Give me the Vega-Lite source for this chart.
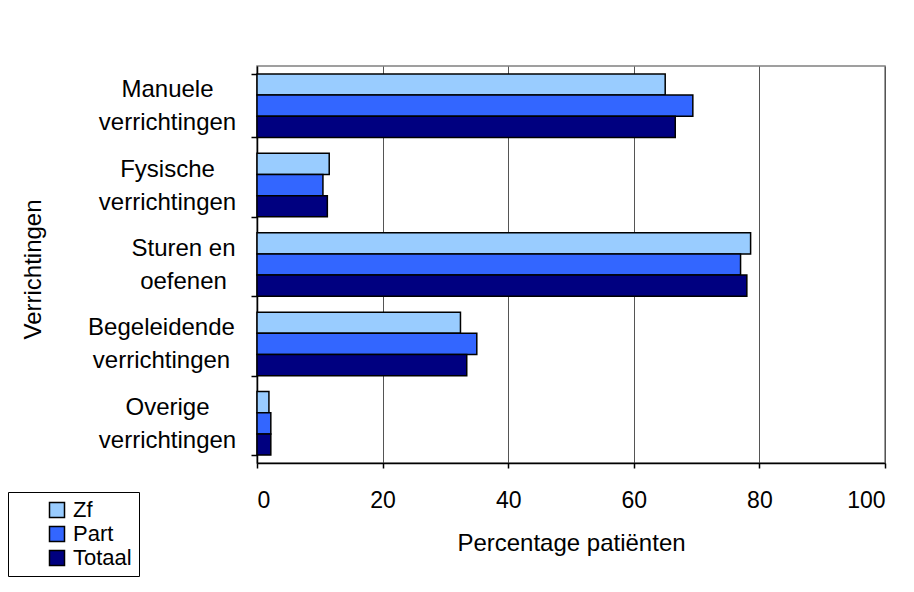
{
  "$schema": "https://vega.github.io/schema/vega-lite/v6.json",
  "width": 628,
  "height": 397,
  "autosize": {"type": "none"},
  "padding": {"left": 257, "top": 66, "right": 29, "bottom": 129},
  "background": "white",
  "config": {
    "font": "Liberation Sans",
    "view": {"stroke": "#808080", "strokeWidth": 1.5},
    "axis": {
      "labelFont": "Liberation Sans",
      "titleFont": "Liberation Sans",
      "labelFontSize": 23,
      "titleFontSize": 24,
      "labelColor": "black",
      "titleColor": "black",
      "titleFontWeight": "normal",
      "domainColor": "black",
      "domainWidth": 1.5,
      "tickColor": "black",
      "tickWidth": 1.5
    },
    "legend": {
      "labelFont": "Liberation Sans",
      "labelFontSize": 22,
      "labelColor": "black"
    }
  },
  "data": {
    "values": [
      {"verrichting": "Manuele|verrichtingen", "groep": "Zf", "pct": 65.0},
      {"verrichting": "Manuele|verrichtingen", "groep": "Part", "pct": 69.4},
      {"verrichting": "Manuele|verrichtingen", "groep": "Totaal", "pct": 66.6},
      {"verrichting": "Fysische|verrichtingen", "groep": "Zf", "pct": 11.5},
      {"verrichting": "Fysische|verrichtingen", "groep": "Part", "pct": 10.5},
      {"verrichting": "Fysische|verrichtingen", "groep": "Totaal", "pct": 11.2},
      {"verrichting": "Sturen en|oefenen", "groep": "Zf", "pct": 78.6},
      {"verrichting": "Sturen en|oefenen", "groep": "Part", "pct": 77.0},
      {"verrichting": "Sturen en|oefenen", "groep": "Totaal", "pct": 78.0},
      {"verrichting": "Begeleidende|verrichtingen", "groep": "Zf", "pct": 32.4},
      {"verrichting": "Begeleidende|verrichtingen", "groep": "Part", "pct": 35.0},
      {"verrichting": "Begeleidende|verrichtingen", "groep": "Totaal", "pct": 33.4},
      {"verrichting": "Overige|verrichtingen", "groep": "Zf", "pct": 1.9},
      {"verrichting": "Overige|verrichtingen", "groep": "Part", "pct": 2.2},
      {"verrichting": "Overige|verrichtingen", "groep": "Totaal", "pct": 2.2}
    ]
  },
  "mark": {"type": "bar", "stroke": "black", "strokeWidth": 1.5},
  "encoding": {
    "y": {
      "field": "verrichting",
      "type": "nominal",
      "sort": null,
      "scale": {"paddingInner": 0.2, "paddingOuter": 0.1},
      "axis": {
        "title": "Verrichtingen",
        "titleX": -224,
        "titleY": 203,
        "titleAngle": -90,
        "titleBaseline": "middle",
        "labelExpr": "split(datum.label, '|')",
        "labelFontSize": 24,
        "labelAlign": "center",
        "labelBaseline": "middle",
        "labelLineHeight": 33,
        "labelOffset": -16,
        "labelPadding": {
          "condition": [
            {"test": "datum.value === 'Sturen en|oefenen'", "value": 68},
            {"test": "datum.value === 'Begeleidende|verrichtingen'", "value": 90}
          ],
          "value": 84
        },
        "tickSize": 6,
        "tickBand": "extent",
        "grid": false
      }
    },
    "yOffset": {
      "field": "groep",
      "type": "nominal",
      "sort": ["Zf", "Part", "Totaal"],
      "scale": {"paddingInner": 0, "paddingOuter": 0}
    },
    "x": {
      "field": "pct",
      "type": "quantitative",
      "scale": {"domain": [0, 100], "nice": false},
      "axis": {
        "title": "Percentage patiënten",
        "values": [0, 20, 40, 60, 80, 100],
        "tickSize": 5,
        "labelPadding": 21,
        "titleY": 80,
        "titleBaseline": "middle",
        "grid": true,
        "gridColor": "#555555",
        "gridWidth": 1
      }
    },
    "color": {
      "field": "groep",
      "type": "nominal",
      "sort": ["Zf", "Part", "Totaal"],
      "scale": {"domain": ["Zf", "Part", "Totaal"], "range": ["#99CCFF", "#3366FF", "#000080"]},
      "legend": {
        "title": null,
        "orient": "none",
        "legendX": -249,
        "legendY": 426,
        "symbolType": "square",
        "symbolSize": 225,
        "symbolStrokeColor": "black",
        "symbolStrokeWidth": 1.5,
        "symbolOffset": 31,
        "labelOffset": 5,
        "rowPadding": 2,
        "padding": 7,
        "strokeColor": "black",
        "fillColor": "white"
      }
    }
  }
}
